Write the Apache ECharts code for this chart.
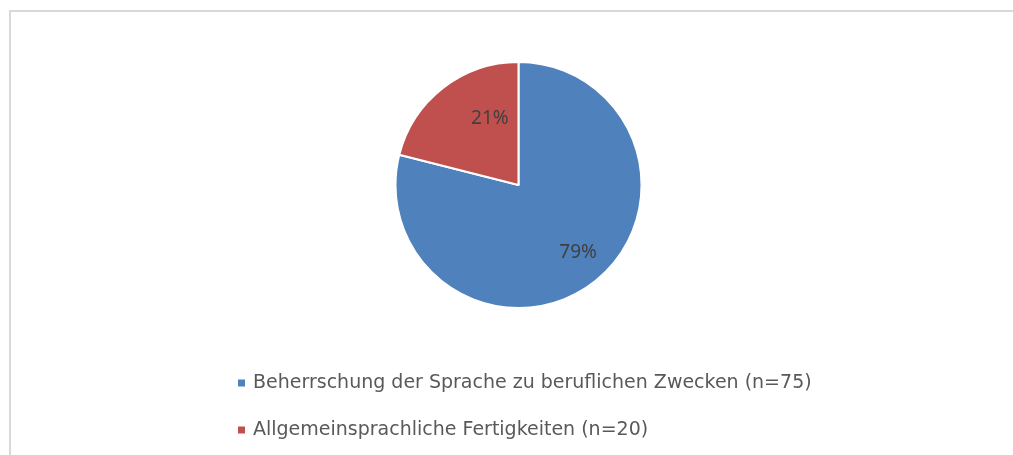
<!DOCTYPE html>
<html>
<head>
<meta charset="utf-8">
<script src="https://cdn.jsdelivr.net/npm/echarts@6/dist/echarts.min.js"></script>
<style>
  html, body { margin: 0; padding: 0; background: #fff; }
  #wrap { position: relative; width: 1013px; height: 455px; overflow: hidden; }
  #frame {
    position: absolute; left: 9px; top: 10px; right: -10px; bottom: -10px;
    border-top: 2px solid #d9d9d9; border-left: 2px solid #d9d9d9;
  }
  #chart { position: absolute; left: 0; top: 0; width: 1013px; height: 455px; }
</style>
</head>
<body>
<div id="wrap">
  <div id="frame"></div>
  <div id="chart"></div>
</div>
<script>
// Daten
const categories = [
  'Beherrschung der Sprache zu beruflichen Zwecken (n=75)',
  'Allgemeinsprachliche Fertigkeiten (n=20)'
]
const counts = [75, 20]
const colors = ['#4f81bd', '#c0504d']

// Verschiebung der Beschriftungen (wie im Original, nicht exakt mittig)
const labelShift = [[20, 17], [11, -16]]

const chart = echarts.init(document.getElementById('chart'))

const option = {
  animation: false,
  color: colors,
  legend: {
    orient: 'vertical',
    left: 231,
    top: 368,
    icon: 'rect',
    itemWidth: 9,
    itemHeight: 9,
    itemGap: 27,
    textStyle: {
      fontFamily: 'DejaVu Sans',
      fontSize: 19,
      lineHeight: 20,
      padding: [0, 0, 0, 2],
      color: '#595959'
    },
    data: categories
  },
  series: [{
    type: 'pie',
    center: [518.5, 185],
    radius: 123,
    startAngle: 90,
    clockwise: true,
    itemStyle: { borderColor: '#fff', borderWidth: 2 },
    label: {
      show: true,
      position: 'inside',
      formatter: p => Math.round(p.percent) + '%',
      fontFamily: 'Noto Sans',
      fontSize: 19,
      color: '#404040'
    },
    labelLayout: p => ({ dx: labelShift[p.dataIndex][0], dy: labelShift[p.dataIndex][1] }),
    emphasis: { disabled: true },
    data: categories.map((name, i) => ({ name, value: counts[i] }))
  }]
}

chart.setOption(option)
</script>
</body>
</html>
